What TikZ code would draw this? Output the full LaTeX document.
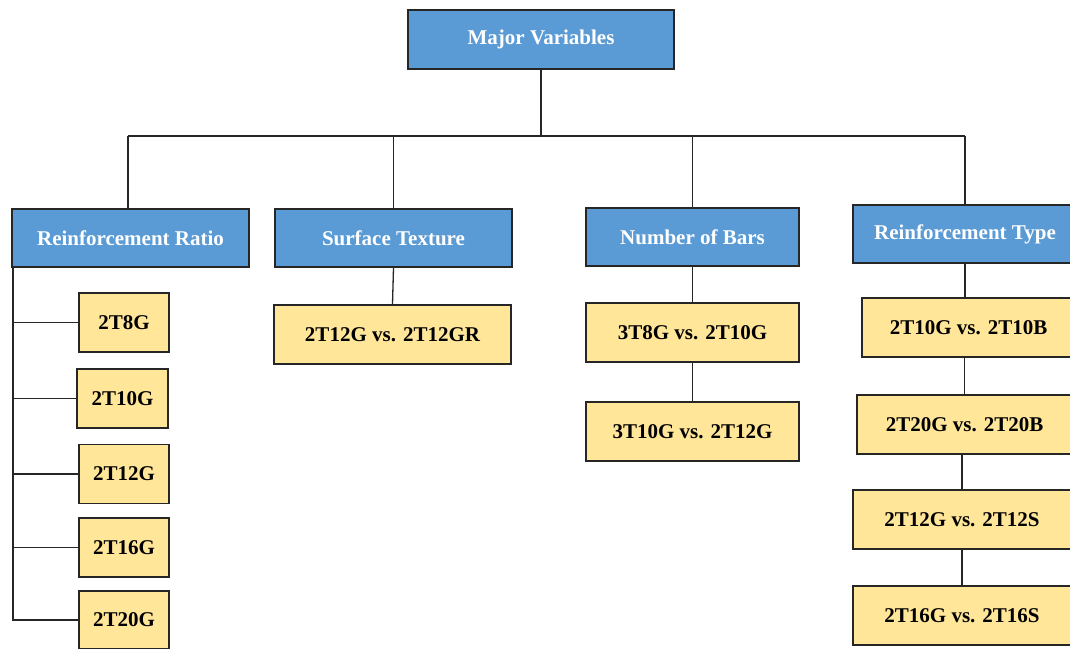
\documentclass[tikz,border=0pt]{standalone}
\usepackage{fontspec}
\setmainfont{Liberation Serif}
\definecolor{catblue}{HTML}{5B9BD5}
\definecolor{itemyellow}{HTML}{FFE699}
\definecolor{edge}{HTML}{262626}
\begin{document}
\begin{tikzpicture}[x=1pt,y=-1pt,
  box/.style={draw=edge, line width=1.3pt, inner sep=0pt, font=\fontsize{21}{24}\selectfont\bfseries},
  cat/.style={box, fill=catblue, text=white, minimum height=58pt},
  item/.style={box, fill=itemyellow, minimum height=59pt},
  link/.style={draw=edge, line width=1.3pt}]
\useasboundingbox (0,0) rectangle (1070,648);
\clip (0,0) rectangle (1070,648);

% top
\node[cat, minimum width=266pt, minimum height=59pt] (mv) at (541,39.5) {Major Variables};

% categories
\node[cat, minimum width=237pt] (rr) at (130.5,238) {Reinforcement Ratio};
\node[cat, minimum width=237pt] (st) at (393.5,238) {Surface Texture};
\node[cat, minimum width=213pt] (nb) at (692.5,237) {Number of Bars};
\node[cat, minimum width=224pt] (rt) at (965,234) {Reinforcement Type};

% bus
\coordinate (bl) at (128,136);
\coordinate (br) at (965,136);
\draw[link] (mv.south) -- (mv.south |- bl);
\draw[link] (bl) -- (br);
\draw[link] (bl) -- (bl |- rr.north);
\draw[link] (st.north |- bl) -- (st.north);
\draw[link] (nb.north |- bl) -- (nb.north);
\draw[link] (br) -- (rt.north);

% reinforcement ratio items
\node[item, minimum width=90pt] (i1) at (124,322.5) {2T8G};
\node[item, minimum width=91pt] (i2) at (122.5,398.5) {2T10G};
\node[item, minimum width=90pt] (i3) at (124,474) {2T12G};
\node[item, minimum width=90pt] (i4) at (124,547.5) {2T16G};
\node[item, minimum width=90pt, minimum height=58pt] (i5) at (124,620) {2T20G};
\coordinate (sp) at (13,267);
\draw[link] (sp) |- (i5.west);
\foreach \k in {1,2,3,4} \draw[link] (i\k.west) -- (i\k.west -| sp);

% surface texture
\node[item, minimum width=237pt] (s1) at (392.5,334.5) {2T12G vs. 2T12GR};
\draw[link] (st.south) -- (s1.north);

% number of bars
\node[item, minimum width=213pt] (n1) at (692.5,332.5) {3T8G vs. 2T10G};
\node[item, minimum width=213pt] (n2) at (692.5,431.5) {3T10G vs. 2T12G};
\draw[link] (nb.south) -- (n1.north);
\draw[link] (n1.south) -- (n2.north);

% reinforcement type
\node[item, minimum width=213pt] (ra) at (968.5,327.5) {2T10G vs. 2T10B};
\node[item, minimum width=215pt] (rb) at (964.5,424.5) {2T20G vs. 2T20B};
\node[item, minimum width=218pt] (rc) at (962,519.5) {2T12G vs. 2T12S};
\node[item, minimum width=218pt] (rd) at (962,615.5) {2T16G vs. 2T16S};
\draw[link] (rt.south) -- (rt.south |- ra.north);
\draw[link] (ra.south -| rb.north) -- (rb.north);
\draw[link] (rc.north |- rb.south) -- (rc.north);
\draw[link] (rc.south) -- (rd.north);
\end{tikzpicture}
\end{document}
